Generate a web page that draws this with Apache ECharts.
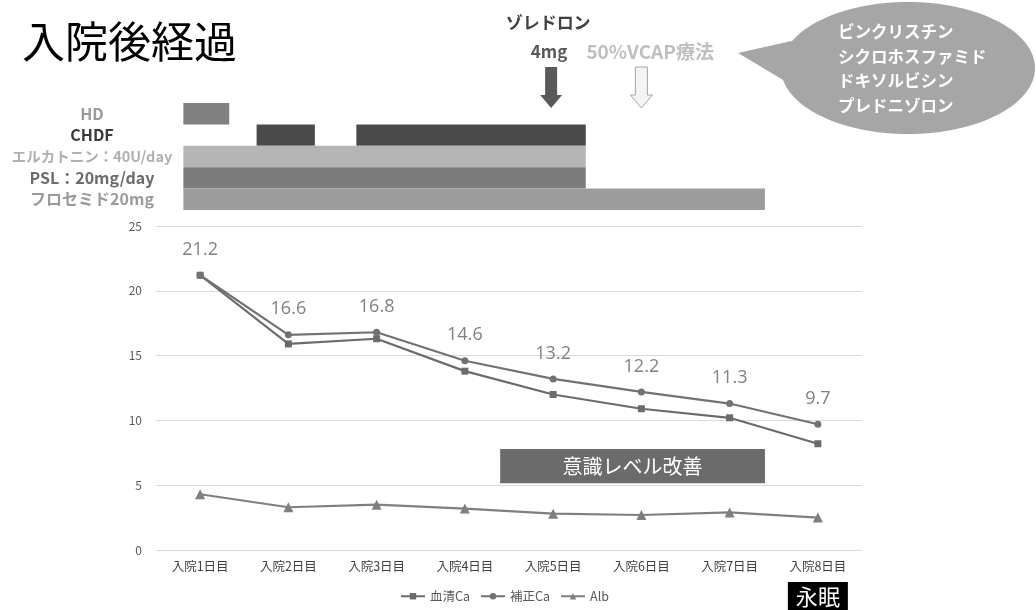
<!DOCTYPE html>
<html><head><meta charset="utf-8">
<script src="https://cdn.jsdelivr.net/npm/echarts@6/dist/echarts.min.js"></script>
<style>html,body{margin:0;padding:0;background:#fff}#c{width:1036px;height:610px}</style>
</head><body><div id="c"></div>
<script>
// ---- data ----
const days = ['入院1日目','入院2日目','入院3日目','入院4日目','入院5日目','入院6日目','入院7日目','入院8日目'];
const serumCa = [21.2, 15.9, 16.3, 13.8, 12.0, 10.9, 10.2, 8.2];
const correctedCa = [21.2, 16.6, 16.8, 14.6, 13.2, 12.2, 11.3, 9.7];
const alb = [4.3, 3.3, 3.5, 3.2, 2.8, 2.7, 2.9, 2.5];
const seriesNames = ['血清Ca', '補正Ca', 'Alb'];
const yMin = 0, yMax = 25, yStep = 5;
// treatment rows and periods [row, startDay, endDay]
const treatments = ['HD', 'CHDF', 'エルカトニン：40U/day', 'PSL：20mg/day', 'フロセミド20mg'];
const treatmentPeriods = [
  [0, 0.81, 1.33],
  [1, 1.64, 2.30],
  [1, 2.77, 5.37],
  [2, 0.81, 5.37],
  [3, 0.81, 5.37],
  [4, 0.81, 7.40]
];
// annotations
const drugEvents = [{day: 5, lines: ['ゾレドロン', '4mg']}, {day: 6, lines: ['50%VCAP療法']}];
const regimen = ['ビンクリスチン', 'シクロホスファミド', 'ドキソルビシン', 'プレドニゾロン'];
const awareness = {text: '意識レベル改善', from: 4.4, to: 7.4, low: 5.15, high: 7.8};
const deathDay = {text: '永眠', day: 8};

// ---- styles ----
const FONT = '"Noto Sans CJK JP", "Noto Sans", sans-serif';
const rowColors = ['#808080', '#4a4a4a', '#b5b5b5', '#7b7b7b', '#9c9c9c'];
const rowLabelColors = ['#9a9a9a', '#3a3a3a', '#b0b0b0', '#6b6b6b', '#9a9a9a'];
const rowLabelSizes = [16, 16, 14.5, 16, 16];
const GRID = {left: 156, right: 174};

const chart = echarts.init(document.getElementById('c'));
const rich = {};
rowLabelColors.forEach((c, i) => rich['r' + i] = {color: c, fontSize: rowLabelSizes[i], fontWeight: 'bold', fontFamily: FONT});

chart.setOption({
  animation: false,
  textStyle: {fontFamily: FONT},
  title: {text: '入院後経過', left: 17, top: 15, textStyle: {fontSize: 43, fontWeight: 'normal', color: '#000', fontFamily: FONT}},
  legend: {
    data: seriesNames, top: 585, left: 395, itemWidth: 24, itemHeight: 8, itemGap: 10,
    textStyle: {color: '#595959', fontSize: 12.5, fontFamily: FONT}
  },
  grid: [
    {left: GRID.left, right: GRID.right, top: 226, bottom: 60},
    {left: GRID.left, right: GRID.right, top: 103, height: 107}
  ],
  xAxis: [
    {type: 'category', data: days, gridIndex: 0, boundaryGap: true,
      axisLine: {lineStyle: {color: '#d9d9d9'}}, axisTick: {show: false},
      axisLabel: {color: '#404040', fontSize: 12.5, margin: 10}},
    {type: 'value', gridIndex: 1, min: 0.5, max: 8.5, show: false}
  ],
  yAxis: [
    {type: 'value', gridIndex: 0, min: yMin, max: yMax, interval: yStep,
      axisLine: {show: false}, axisTick: {show: false},
      axisLabel: {color: '#595959', fontSize: 12, margin: 14},
      splitLine: {lineStyle: {color: '#d9d9d9'}}},
    {type: 'category', gridIndex: 1, data: treatments, inverse: true,
      axisLine: {show: false}, axisTick: {show: false}, splitLine: {show: false},
      axisLabel: {margin: 64, align: 'center', formatter: (v, i) => `{r${i}|${v}}`, rich: rich}}
  ],
  series: [
    {name: seriesNames[0], type: 'line', data: serumCa, symbol: 'rect', symbolSize: 7,
      lineStyle: {color: '#6b6b6b', width: 2.2}, itemStyle: {color: '#6b6b6b'}},
    {name: seriesNames[1], type: 'line', data: correctedCa, symbol: 'circle', symbolSize: 7,
      lineStyle: {color: '#727272', width: 2.2}, itemStyle: {color: '#727272'},
      label: {show: true, position: 'top', distance: 13, color: '#808080', fontSize: 18, fontFamily: '"Open Sans", "Noto Sans", sans-serif'}},
    {name: seriesNames[2], type: 'line', data: alb, symbol: 'triangle', symbolSize: 10,
      lineStyle: {color: '#7f7f7f', width: 2.2}, itemStyle: {color: '#7f7f7f'}},
    {type: 'custom', xAxisIndex: 1, yAxisIndex: 1, data: treatmentPeriods,
      encode: {x: [1, 2], y: 0}, silent: true,
      renderItem: function (params, api) {
        const row = api.value(0);
        const s = api.coord([api.value(1), row]);
        const e = api.coord([api.value(2), row]);
        const h = api.size([0, 1])[1];
        return {type: 'rect', shape: {x: s[0], y: s[1] - h / 2, width: e[0] - s[0], height: h},
          style: {fill: rowColors[row]}};
      }}
  ]
});

// ---- annotations positioned via the chart's own axes ----
function dayX(d) { return chart.convertToPixel({xAxisIndex: 1}, d); }
function valY(v) { return chart.convertToPixel({yAxisIndex: 0}, v); }

function arrow(cx, fill, stroke) {
  const top = 67, headTop = 95, tip = 108, sw = 6, hw = 11;
  return {type: 'polygon', shape: {points: [
      [cx - sw, top], [cx + sw, top], [cx + sw, headTop], [cx + hw, headTop], [cx, tip], [cx - hw, headTop], [cx - sw, headTop]]},
    style: {fill: fill, stroke: stroke, lineWidth: stroke ? 1 : 0}};
}

const g = [];
const zx = dayX(drugEvents[0].day) - 2;
g.push(arrow(zx, '#595959', null));
g.push({type: 'text', style: {x: zx - 3, y: 23, text: drugEvents[0].lines[0], textAlign: 'center', textVerticalAlign: 'middle',
  fill: '#404040', font: 'bold 17px ' + FONT}});
g.push({type: 'text', style: {x: zx - 2, y: 52, text: drugEvents[0].lines[1], textAlign: 'center', textVerticalAlign: 'middle',
  fill: '#595959', font: 'bold 17px ' + FONT}});
const vx = dayX(drugEvents[1].day);
g.push(arrow(vx, '#f4f4f4', '#a6a6a6'));
g.push({type: 'text', style: {x: vx - 55, y: 52, text: drugEvents[1].lines[0], textAlign: 'left', textVerticalAlign: 'middle',
  fill: '#bfbfbf', font: 'bold 19px ' + FONT}});
// callout balloon
g.push({type: 'polygon', shape: {points: [[738, 53], [805, 38], [800, 90]]}, style: {fill: '#a6a6a6'}});
g.push({type: 'ellipse', shape: {cx: 908, cy: 68, rx: 127, ry: 66}, style: {fill: '#a6a6a6'}});
regimen.forEach((t, i) => g.push({type: 'text', style: {x: 838, y: 32 + i * 24.5, text: t, textAlign: 'left',
  textVerticalAlign: 'middle', fill: '#fff', font: 'bold 16.5px ' + FONT}}));
// awareness box
const ax0 = dayX(awareness.from), ax1 = dayX(awareness.to);
const ay0 = valY(awareness.high), ay1 = valY(awareness.low);
g.push({type: 'rect', shape: {x: ax0, y: ay0, width: ax1 - ax0, height: ay1 - ay0}, style: {fill: '#6b6b6b'}});
g.push({type: 'text', style: {x: (ax0 + ax1) / 2, y: (ay0 + ay1) / 2, text: awareness.text, textAlign: 'center',
  textVerticalAlign: 'middle', fill: '#fff', font: '20px ' + FONT}});
// death box
const dx = dayX(deathDay.day);
g.push({type: 'rect', shape: {x: dx - 30, y: 582, width: 60, height: 28}, style: {fill: '#000'}});
g.push({type: 'text', style: {x: dx, y: 597, text: deathDay.text, textAlign: 'center', textVerticalAlign: 'middle',
  fill: '#fff', font: '22px ' + FONT}});

chart.setOption({graphic: {elements: g}});
</script>
</body></html>
